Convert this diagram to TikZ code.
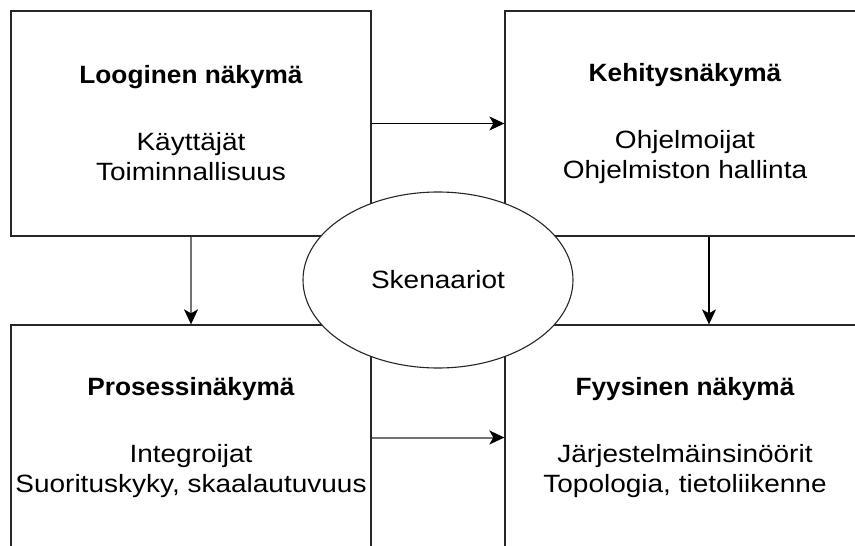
\documentclass[tikz,border=0pt]{standalone}
\usepackage{fontspec}
\setmainfont{Liberation Sans}[FakeStretch=1.12]
\newfontfamily\titlefont{Liberation Sans}[FakeStretch=1.05]
\usetikzlibrary{shapes.geometric,arrows.meta}
\begin{document}
\begin{tikzpicture}[x=1pt,y=-1pt,
  view/.style={draw=black!85,line width=1.3pt,minimum width=360pt,minimum height=225pt,align=center,font=\fontsize{25}{30}\selectfont},
  scen/.style={draw=black!85,fill=white,line width=1.1pt,ellipse,minimum width=270pt,minimum height=176pt,inner sep=0pt,font=\fontsize{25}{30}\selectfont},
  arr/.style={draw=black,line width=1.1pt,-{Stealth[length=15pt,width=14pt,inset=4pt,color=black]}},
  arrgray/.style={arr,draw=black!55,line width=2pt}]
\useasboundingbox (0,0) rectangle (855,546);
\node[view] (looginen) at (191,123.5) {{\titlefont\bfseries Looginen näkymä}\\[37pt]Käyttäjät\\Toiminnallisuus};
\node[view] (kehitys) at (685,123.5) {{\titlefont\bfseries Kehitysnäkymä}\\[37pt]Ohjelmoijat\\Ohjelmiston hallinta};
\node[view] (prosessi) at (191,437.5) {{\titlefont\bfseries Prosessinäkymä}\\[37pt]Integroijat\\Suorituskyky, skaalautuvuus};
\node[view] (fyysinen) at (685,437.5) {{\titlefont\bfseries Fyysinen näkymä}\\[37pt]Järjestelmäinsinöörit\\Topologia, tietoliikenne};

\draw[arr] (looginen.east) -- (kehitys.west);
\draw[arrgray] (prosessi.east) -- (fyysinen.west);
\draw[arrgray] (looginen.south) -- (prosessi.north);
\draw[arr] ([xshift=24pt]kehitys.south) -- ([xshift=24pt]fyysinen.north);

\node[scen] (skenaariot) at (438,280) {Skenaariot};
\end{tikzpicture}
\end{document}
